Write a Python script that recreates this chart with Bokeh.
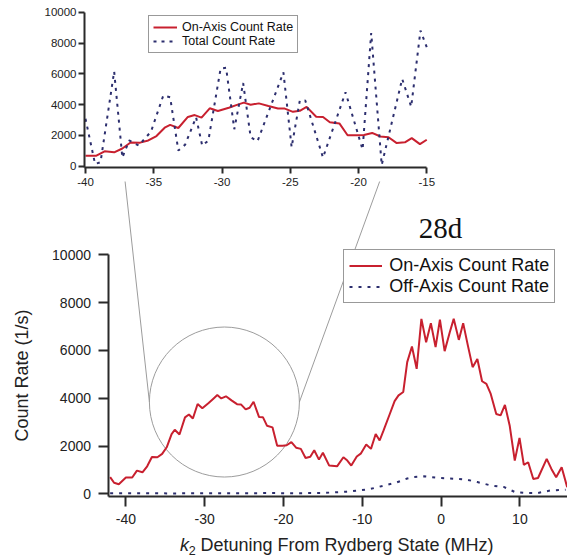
import math
from bokeh.plotting import figure
from bokeh.models import (Range1d, LinearAxis, FixedTicker, Legend, LegendItem, Label)
from bokeh.embed import file_html
from bokeh.resources import INLINE

# ---------------- data ----------------
detuning = [-42.0, -41.5, -40.9, -40.0, -39.2, -38.6, -37.9, -37.3, -36.7, -36.0, -35.4, -34.8,
            -34.2, -33.8, -33.2, -32.5, -32.0, -31.5, -30.9, -30.3, -29.5, -28.9, -28.4, -27.9,
            -27.3, -26.6, -25.9, -25.4, -24.8, -24.3, -23.8, -23.1, -22.6, -22.1, -21.4, -20.8,
            -20.1, -19.6, -19.0, -18.4, -17.8, -17.2, -16.6, -16.1, -15.5, -15.0, -14.2, -13.2,
            -12.4, -11.9, -11.4, -10.7, -10.2, -9.5, -8.9, -8.3, -7.8, -7.3, -6.5, -5.9, -5.4,
            -4.8, -4.3, -3.7, -3.1, -2.5, -1.9, -1.3, -0.7, -0.15, 0.45, 1.1, 1.6, 2.25, 2.8,
            3.4, 4.0, 4.6, 5.2, 5.75, 6.3, 7.0, 7.55, 8.1, 8.7, 9.35, 9.95, 10.5, 11.05, 11.7,
            12.3, 13.4, 14.0, 14.6, 15.3, 16.0]
on_axis_rate = [700, 460, 400, 680, 680, 970, 900, 1150, 1540, 1530, 1670, 1960,
                2500, 2680, 2480, 3200, 3320, 3150, 3760, 3580, 3800, 3980, 4130, 3990,
                4080, 3910, 3750, 3740, 3530, 3600, 3850, 3210, 3200, 2850, 2780, 2010,
                2010, 2030, 2160, 1930, 1880, 1500, 1550, 1820, 1430, 1720, 1180, 1150,
                1530, 1390, 1180, 1560, 1680, 2060, 1880, 2500, 2230, 2650, 3350, 3880, 4120,
                4260, 5510, 6160, 5230, 7320, 6340, 7140, 6140, 7290, 5970, 6760, 7320, 6440, 7140,
                6200, 5300, 5640, 4710, 4600, 4180, 3340, 3280, 3720, 2860, 1390, 2340, 1210, 1320, 620,
                660, 1460, 1040, 690, 1110, 280]

off_detuning = [-42.0, -38.0, -34.0, -30.0, -26.0, -22.0, -18.0, -15.0, -13.6, -12.0, -10.6, -9.0,
                -7.3, -5.6, -4.3, -3.5, -2.2, -0.1, 1.8, 3.3, 4.6, 6.3, 8.0, 9.4, 10.9, 12.2,
                13.9, 15.8]
off_axis_rate = [20, 25, 15, 25, 20, 30, 25, 35, 60, 90, 130, 200,
                 340, 480, 640, 700, 730, 660, 630, 590, 490, 350, 280, 70, 30, 30,
                 140, 170]

total_detuning = [-40.0, -39.3, -38.9, -37.9, -37.3, -36.8, -36.1, -35.2, -34.3, -33.8, -33.2,
                  -32.7, -31.9, -31.45, -31.0, -30.1, -29.7, -29.1, -28.45, -27.9, -27.4, -25.5,
                  -24.9, -24.3, -23.9, -22.6, -20.95, -19.7, -19.07, -18.3, -16.8, -16.14,
                  -15.46, -15.0]
total_rate = [3080, 150, 260, 6150, 560, 1670, 1340, 2250, 4590, 4480, 1020,
              1400, 3180, 1340, 1660, 6350, 6390, 2400, 5400, 1880, 1620, 6100,
              1230, 4260, 4270, 560, 4800, 1080, 8650, 80, 5670, 3860,
              8810, 7730]

main_x_ticks = [-40, -30, -20, -10, 0, 10]
main_y_ticks = [0, 2000, 4000, 6000, 8000, 10000]
inset_x_ticks = [-40, -35, -30, -25, -20, -15]
inset_y_ticks = [0, 2000, 4000, 6000, 8000, 10000]
inset_window = (-40, -15)
zoom_center = (-27.5, 3840)

series_labels_main = ["On-Axis Count Rate", "Off-Axis Count Rate"]
series_labels_inset = ["On-Axis Count Rate", "Total Count Rate"]
state_label = "28d"
y_title = "Count Rate (1/s)"

# ---------------- layout (page pixels) ----------------
W, H = 567, 557
OX, OY = 0, 0
MX0, MXS = 440.6, 7.88      # page X of 0 MHz, px per MHz (main)
MY0, MYS = 493.3, 0.0239    # page Y of 0 counts, px per count (main)
IX0, IXS = 85.0, 13.65      # page X of -40 MHz, px per MHz (inset)
IY0, IYS = 165.7, 0.0154    # page Y of 0 counts (inset)

def mx(X): return (X - MX0) / MXS
def my(Y): return (MY0 - Y) / MYS
def ix(X): return -40 + (X - IX0) / IXS
def iy(Y): return (IY0 - Y) / IYS
def mX(x): return MX0 + x * MXS
def mY(y): return MY0 - y * MYS
def iX(x): return IX0 + (x + 40) * IXS

RED = "#c8202f"
NAVY = "#2c2e6e"
AX = "#2a2a2a"
FONT = "Liberation Sans"

p = figure(width=W, height=H,
           x_range=Range1d(mx(OX), mx(OX + W)), y_range=Range1d(my(OY + H), my(OY)),
           x_axis_type=None, y_axis_type=None, toolbar_location=None,
           output_backend="svg", min_border=0, outline_line_color=None)
p.min_border_left = p.min_border_right = p.min_border_top = p.min_border_bottom = 0
p.extra_x_ranges = {"ix": Range1d(ix(OX), ix(OX + W))}
p.extra_y_ranges = {"iy": Range1d(iy(OY + H), iy(OY))}
p.xgrid.visible = False
p.ygrid.visible = False

def style_axis(a, ticks, fs, tick_out, standoff):
    a.axis_line_color = AX
    a.axis_line_width = 2
    a.major_tick_line_color = AX
    a.major_tick_line_width = 2
    a.major_tick_out = tick_out
    a.major_tick_in = 0
    a.minor_tick_out = 0
    a.minor_tick_in = 0
    a.major_label_text_font = FONT
    a.major_label_text_font_size = fs
    a.major_label_text_color = "#222222"
    a.major_label_standoff = standoff
    a.major_label_overrides = {t: str(t) for t in ticks}   # plain hyphen minus

# main axes
yax = LinearAxis(ticker=FixedTicker(ticks=main_y_ticks, minor_ticks=[]),
                 fixed_location=mx(107.5), bounds=(my(495.5), main_y_ticks[-1]))
style_axis(yax, main_y_ticks, "14px", 10, 7)
yax.axis_label = y_title
yax.axis_label_text_font = FONT
yax.axis_label_text_font_size = "18px"
yax.axis_label_text_font_style = "normal"
yax.axis_label_text_color = "#222222"
yax.axis_label_standoff = 18
p.add_layout(yax, "left")

xax = LinearAxis(ticker=FixedTicker(ticks=main_x_ticks, minor_ticks=[]),
                 fixed_location=my(495.5), bounds=(mx(107.5), mx(OX + W)))
style_axis(xax, main_x_ticks, "14px", 10, 8)
p.add_layout(xax, "below")

# inset axes
iyax = LinearAxis(ticker=FixedTicker(ticks=inset_y_ticks, minor_ticks=[]),
                  x_range_name="ix", y_range_name="iy",
                  fixed_location=ix(84), bounds=(iy(167), inset_y_ticks[-1]))
style_axis(iyax, inset_y_ticks, "11.5px", 6, 2)
p.add_layout(iyax, "left")

ixax = LinearAxis(ticker=FixedTicker(ticks=inset_x_ticks, minor_ticks=[]),
                  x_range_name="ix", y_range_name="iy",
                  fixed_location=iy(167), bounds=(ix(84), inset_window[1]))
style_axis(ixax, inset_x_ticks, "11.5px", 6, 4)
p.add_layout(ixax, "below")

# zoom circle and connectors
R_PX = 75
p.scatter(x=[zoom_center[0]], y=[zoom_center[1]], marker="circle", size=2 * R_PX,
          fill_color=None, line_color="#9c9c9c", line_width=1)
cxX = mX(zoom_center[0])
start_inset = [-37.1, -18.45]
startY = 181.0
x0 = [mx(iX(v)) for v in start_inset]
y0 = [my(startY)] * 2
x1 = [mx(cxX - R_PX), mx(cxX + R_PX)]
y1 = [zoom_center[1]] * 2
p.segment(x0=x0, y0=y0, x1=x1, y1=y1, line_color="#9c9c9c", line_width=1)

# main series
r_on = p.line(detuning, on_axis_rate, line_color=RED, line_width=2)
r_off = p.line(off_detuning, off_axis_rate, line_color=NAVY, line_width=2, line_dash="3 6")

# inset series
ins_x = [d for d in detuning if inset_window[0] <= d <= inset_window[1]]
ins_y = [v for d, v in zip(detuning, on_axis_rate) if inset_window[0] <= d <= inset_window[1]]
ri_on = p.line(ins_x, ins_y, x_range_name="ix", y_range_name="iy",
               line_color=RED, line_width=2)
ri_tot = p.line(total_detuning, total_rate, x_range_name="ix", y_range_name="iy",
                line_color=NAVY, line_width=2, line_dash="3 5")

# legends
leg_main = Legend(items=[LegendItem(label=series_labels_main[0], renderers=[r_on]),
                         LegendItem(label=series_labels_main[1], renderers=[r_off])],
                  location=(343.3 - OX, OY + H - 302.7),
                  padding=5, spacing=0, margin=0,
                  label_height=19, glyph_height=19, glyph_width=33, label_standoff=7,
                  label_text_font=FONT, label_text_font_size="18px", label_text_color="#111111",
                  border_line_color="#333333", border_line_width=1.5,
                  background_fill_color="white", background_fill_alpha=1)
p.add_layout(leg_main)

leg_ins = Legend(items=[LegendItem(label=series_labels_inset[0], renderers=[ri_on]),
                        LegendItem(label=series_labels_inset[1], renderers=[ri_tot])],
                 location=(148 - OX, OY + H - 53.3),
                 padding=4, spacing=0, margin=0,
                 label_height=14, glyph_height=14, glyph_width=24, label_standoff=5,
                 label_text_font=FONT, label_text_font_size="12.5px", label_text_color="#111111",
                 border_line_color="#333333", border_line_width=1.5,
                 background_fill_color="white", background_fill_alpha=1)
p.add_layout(leg_ins)

# state label
p.add_layout(Label(x=mx(418.3), y=my(227.5), text=state_label, text_font="Liberation Serif",
                   text_font_size="29px", text_color="#111111",
                   text_align="left", text_baseline="middle"))

# x-axis title: italic k, subscript 2, rest
mid_Y = 544.5
p.add_layout(Label(x=mx(179.5), y=my(mid_Y), text="k", text_font=FONT, text_font_style="italic",
                   text_font_size="18px", text_color="#222222",
                   text_align="left", text_baseline="middle"))
p.add_layout(Label(x=mx(188.3), y=my(mid_Y + 5), text="2", text_font=FONT,
                   text_font_size="12.5px", text_color="#222222",
                   text_align="left", text_baseline="middle"))
p.add_layout(Label(x=mx(200.0), y=my(mid_Y), text="Detuning From Rydberg State (MHz)", text_font=FONT,
                   text_font_size="18px", text_color="#222222",
                   text_align="left", text_baseline="middle"))

open("out.html", "w").write(file_html(p, INLINE))
